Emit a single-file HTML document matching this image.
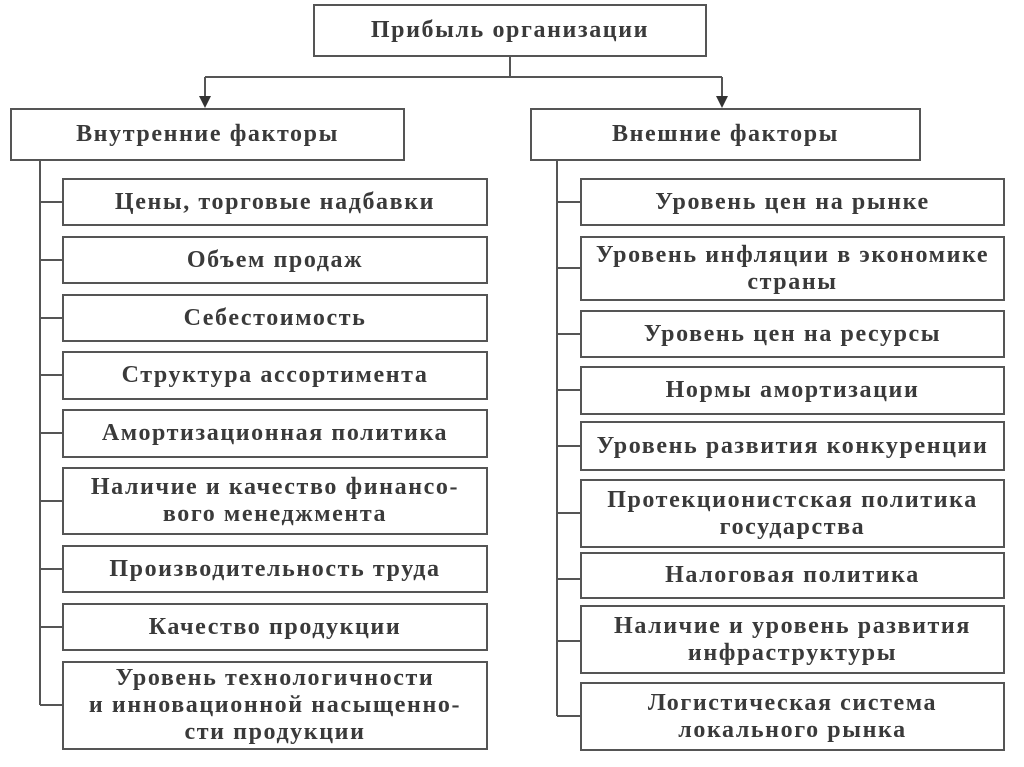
<!DOCTYPE html>
<html><head><meta charset="utf-8"><style>
body{margin:0;width:1024px;height:767px;background:#fff;position:relative;overflow:hidden;font-family:"Liberation Serif",serif;color:#3a3a3a}
.b{position:absolute;border:2px solid #555;box-sizing:border-box;display:flex;align-items:center;justify-content:center;text-align:center;font-size:24px;font-weight:bold;line-height:27px;letter-spacing:1.6px;white-space:nowrap;background:#fff}
</style></head><body>
<svg width="1024" height="767" style="position:absolute;left:0;top:0">
<g stroke="#555" stroke-width="2" fill="none">
<path d="M510 56V77M205 77H722M205 77V100M722 77V100"/>
<path d="M40 160V705M557 160V716"/>
<path d="M40 202H62M40 260H62M40 318H62M40 375H62M40 433H62M40 501H62M40 569H62M40 627H62M40 705H62"/>
<path d="M557 202H580M557 268H580M557 334H580M557 390H580M557 446H580M557 513H580M557 579H580M557 641H580M557 716H580"/>
</g>
<path d="M199 96L211 96L205 108Z M716 96L728 96L722 108Z" fill="#333"/>
</svg>
<div class="b" style="left:313px;top:4px;width:394px;height:53px">Прибыль организации</div>
<div class="b" style="left:10px;top:108px;width:395px;height:53px">Внутренние факторы</div>
<div class="b" style="left:530px;top:108px;width:391px;height:53px">Внешние факторы</div>

<div class="b" style="left:62px;top:178px;width:426px;height:48px">Цены, торговые надбавки</div>
<div class="b" style="left:62px;top:236px;width:426px;height:48px">Объем продаж</div>
<div class="b" style="left:62px;top:294px;width:426px;height:48px">Себестоимость</div>
<div class="b" style="left:62px;top:351px;width:426px;height:49px">Структура ассортимента</div>
<div class="b" style="left:62px;top:409px;width:426px;height:49px">Амортизационная политика</div>
<div class="b" style="left:62px;top:467px;width:426px;height:68px">Наличие и качество финансо-<br>вого менеджмента</div>
<div class="b" style="left:62px;top:545px;width:426px;height:48px">Производительность труда</div>
<div class="b" style="left:62px;top:603px;width:426px;height:48px">Качество продукции</div>
<div class="b" style="left:62px;top:661px;width:426px;height:89px">Уровень технологичности<br>и инновационной насыщенно-<br>сти продукции</div>

<div class="b" style="left:580px;top:178px;width:425px;height:48px">Уровень цен на рынке</div>
<div class="b" style="left:580px;top:236px;width:425px;height:65px">Уровень инфляции в экономике<br>страны</div>
<div class="b" style="left:580px;top:310px;width:425px;height:48px">Уровень цен на ресурсы</div>
<div class="b" style="left:580px;top:366px;width:425px;height:49px">Нормы амортизации</div>
<div class="b" style="left:580px;top:421px;width:425px;height:50px">Уровень развития конкуренции</div>
<div class="b" style="left:580px;top:479px;width:425px;height:69px">Протекционистская политика<br>государства</div>
<div class="b" style="left:580px;top:552px;width:425px;height:47px">Налоговая политика</div>
<div class="b" style="left:580px;top:605px;width:425px;height:69px">Наличие и уровень развития<br>инфраструктуры</div>
<div class="b" style="left:580px;top:682px;width:425px;height:69px">Логистическая система<br>локального рынка</div>
</body></html>
